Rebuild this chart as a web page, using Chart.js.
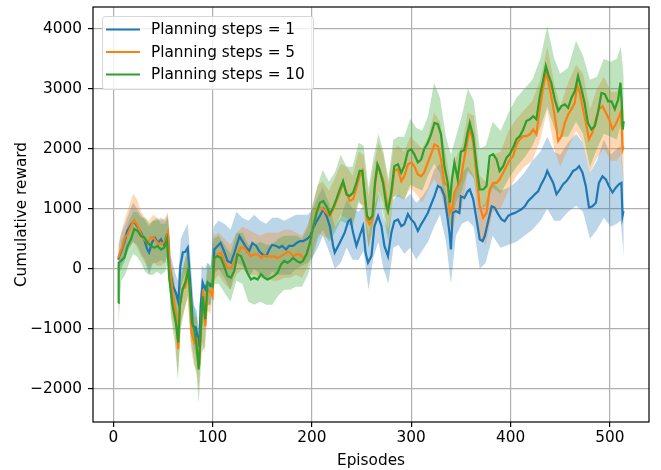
<!DOCTYPE html>
<html>
<head>
<meta charset="utf-8">
<title>Cumulative reward per episode</title>
<script src="https://cdn.jsdelivr.net/npm/chart.js"></script>
<style>
  body { margin: 0; background: #fff; }
  canvas { display: block; }
</style>
</head>
<body>
<canvas id="rewardChart" width="661" height="470"></canvas>
<script>
// mean curves, [episode, cumulative reward]
const steps1 = [
  [5,150],[6,210],[8,290],[11,430],[14,630],[18,740],[21,790],[24,710],[28,600],[31,490],
  [34,330],[36,270],[39,440],[42,510],[45,430],[48,490],[51,400],[54,570],[55,580],[56.5,40],
  [60,-290],[63,-400],[65.5,-560],[67.5,40],[70,270],[72.5,280],[75,350],[76.5,-10],[78,-340],[80,-950],
  [83,-980],[85,-1150],[86.5,-1300],[88,-600],[90,-230],[92.5,-340],[95,-230],[98,-290],[100,-290],[101.7,320],
  [105,380],[108,430],[112,270],[115,130],[118.5,100],[122,270],[127,540],[130,460],[134,350],[137,300],
  [140,430],[144,380],[147,290],[150,240],[154,210],[157,320],[160,400],[164,380],[167,350],[170,380],
  [174,320],[177,380],[181,380],[184.6,430],[188,460],[191,460],[194.6,490],[198,540],[201,660],[204.7,790],
  [208,880],[211.4,990],[214.7,880],[218,710],[221.4,380],[223,270],[226.4,380],[229.8,490],[233,600],[236.5,790],
  [238.8,820],[241.5,600],[244.8,380],[248,540],[251.5,710],[254,270],[256.5,100],[259.9,210],[263,710],[266.6,880],
  [270,710],[273,380],[276.6,210],[280,600],[283,790],[286.6,820],[290,710],[293,740],[296.7,910],[300,820],
  [303,770],[306.7,630],[310,740],[313,820],[316.7,930],[320,1070],[323.4,1210],[326.8,1380],[330,1350],[333.4,1210],
  [336.8,820],[338.5,600],[340,320],[341.8,930],[345,960],[348.5,930],[350,1210],[353.5,1180],[356.9,1290],[359,1320],
  [362.4,1160],[365.8,820],[369,490],[371.8,460],[374,540],[377.5,790],[381,1040],[384,1020],[387.6,910],[391,820],
  [394,790],[397.7,880],[401,910],[404.4,930],[407.7,960],[411,990],[414.4,1040],[417.8,1130],[421,1180],[424.5,1240],
  [427.8,1290],[431,1410],[434.6,1520],[437,1630],[439.6,1540],[443,1430],[446.3,1240],[449.7,1320],[453,1410],[456.4,1460],
  [459.7,1540],[463,1630],[466.4,1660],[469,1710],[472.5,1600],[475.8,1380],[479,1020],[482.5,1040],[486,1100],[489,1430],
  [492.6,1540],[496,1490],[499,1380],[502.7,1270],[506,1350],[509.4,1410],[511.7,1430],[512.8,880],[513.8,960]
];

const steps5 = [
  [5,180],[6.7,270],[9.4,380],[12,540],[14.4,570],[17.8,710],[21,810],[24.5,720],[28,570],[31,490],
  [34.6,430],[38,520],[40,530],[43,460],[46.3,410],[49.7,420],[53,490],[55,600],[56.4,100],[59.7,-400],
  [63,-730],[65.4,-1340],[67,-620],[69.8,-340],[72.5,-310],[75.5,-70],[77,-400],[78.9,-1070],[81.5,-1230],[83.9,-1180],
  [86.6,-1620],[89,-730],[90.6,-340],[92.6,-960],[95,-340],[98.3,-400],[100,-460],[101.7,160],[105,240],[108.4,270],
  [111.7,130],[115,20],[118.5,20],[121.8,100],[125,240],[128.5,350],[131.9,350],[135,270],[138.6,210],[142,240],
  [145.3,240],[148.7,180],[152,220],[155.4,210],[158.7,200],[162,210],[165.4,180],[168.8,210],[172,240],[175.5,280],
  [178,270],[181,210],[184.6,240],[188,240],[191,180],[194.6,240],[198,430],[201,660],[204.7,990],[208,1020],
  [211.4,990],[214.7,930],[218,880],[221.4,990],[224.7,1130],[228,1270],[231.4,1430],[234.8,1270],[238,1130],[241.5,1160],
  [244.8,1350],[248,1540],[250.8,1630],[253,1210],[255.5,820],[258,740],[261,820],[263.5,1380],[266,1710],[268,1630],
  [271.6,1490],[275,1160],[276.6,990],[280,1210],[283,1630],[286.6,1660],[290,1460],[293,1540],[296.7,1740],[300,1770],
  [303,1710],[306.7,1570],[310,1540],[313,1600],[316.7,1770],[320,1910],[323.4,2070],[326.8,2040],[330,1820],[333.4,1430],
  [336.8,1380],[339,930],[341,990],[343.5,1270],[346.8,1380],[350,1480],[352,1710],[355.7,2040],[359,2350],[362.4,2100],
  [365.8,1540],[369,1040],[372.5,850],[375.8,930],[379,1320],[382.5,1430],[386,1430],[389,1490],[392.6,1600],[396,1710],
  [399.3,1820],[402.7,1880],[406,2070],[409.4,2160],[412.8,2210],[416,2210],[419.5,2240],[422.8,2320],[426,2240],[429.5,2660],
  [433,3040],[435.6,3270],[438,3130],[441,2880],[444.6,2540],[448,2130],[451.3,2210],[454.7,2430],[458,2570],[461.4,2660],
  [464.8,2770],[467,3070],[469.8,2930],[473,2660],[476.5,2380],[479,2160],[482.5,2270],[486,2490],[489,2660],[492.6,2710],
  [496,2600],[499.3,2490],[502.7,2320],[506,2410],[509.4,2540],[511.4,2630],[512.8,1990],[513.8,2040]
];

const steps10 = [
  [5,-570],[5.4,100],[7.7,130],[11,180],[14.4,380],[17.8,490],[21,660],[24.5,630],[28,540],[31.2,520],
  [34.6,430],[38,380],[41.3,350],[44.6,380],[48,320],[51.3,350],[54,490],[56.4,-180],[59.7,-620],[63,-900],
  [65.4,-1230],[67,-620],[69.8,-340],[72.5,-230],[75.5,-10],[77.5,-460],[79.2,-900],[81.5,-1010],[83.9,-1290],[86,-1680],
  [88.3,-960],[90,-460],[92.6,-840],[95,-230],[98.3,-260],[100,-290],[101.7,180],[105,210],[108.4,180],[111.7,40],
  [115,-120],[118.5,-150],[121.8,-40],[125,240],[128.5,210],[131.9,70],[135,-70],[138.6,-180],[142,-150],[145.3,-180],
  [148.7,-90],[152,-150],[155.4,-180],[158.7,-150],[162,-120],[165.4,-70],[168.8,70],[172,130],[175.5,100],[178,130],
  [181,180],[184.6,130],[188,100],[191,130],[194.6,240],[198,430],[201,680],[204.7,930],[208,1100],[211.4,1130],
  [214.7,1040],[218,910],[221.4,1020],[224.7,1160],[228,1320],[231.4,1460],[234.8,1240],[238,1210],[241.5,1270],[244.8,1430],
  [248,1630],[250.8,1630],[253,1270],[255.5,880],[258,820],[261,880],[263.5,1430],[266,1740],[268,1660],[271.6,1430],
  [275,1040],[276.6,960],[280,1290],[283,1710],[286.6,1740],[290,1600],[293,1710],[296.7,1960],[300,1990],[303,1910],
  [306.7,1770],[310,1820],[313,1990],[316.7,2100],[320,2240],[323.4,2430],[326.8,2410],[330,2240],[333.4,1710],[336.8,1430],
  [339,1100],[341,1490],[343.5,1770],[346.8,1490],[350,1950],[353.5,1980],[356.5,2250],[359,2430],[362.4,2210],[365.8,1710],
  [369,1320],[372.5,1320],[375.8,1380],[379,1880],[382.5,1910],[386,1820],[389,1630],[392.6,1710],[396,1850],[399.3,1910],
  [402.7,2020],[406,2160],[409.4,2210],[412.8,2320],[416,2460],[419.5,2490],[422.8,2540],[426,2490],[429.5,2880],[433,3160],
  [435.6,3380],[438,3240],[441,3100],[444.6,2820],[448,2630],[451.3,2710],[454.7,2740],[458,2680],[461.4,2850],[464.8,2960],
  [468,3210],[471,3020],[474.5,2770],[477.9,2430],[481.5,2320],[485,2380],[488,2600],[491.6,2930],[495,2910],[498.3,2790],
  [501.7,2790],[505,2660],[508.4,2820],[510.7,3100],[512,2770],[513,2320],[514,2460]
];

// shaded spread, [episode, low, high]
const band1 = [
  [5,-100,400],[8,0,600],[12,150,750],[16,350,950],[20,450,1100],[24,400,1000],[28,250,900],[32,150,800],[36,-100,700],[40,100,800],
  [44,100,800],[48,150,850],[52,100,800],[55,250,900],[58,-500,200],[62,-700,-50],[65,-900,-200],[68,-300,500],[72,-100,650],[75,-50,750],
  [78,-700,100],[81,-1300,-600],[84,-1500,-700],[86,-1700,-1000],[89,-1000,50],[92,-800,0],[95,-600,100],[98,-600,50],[101,-100,700],[106,0,800],
  [112,-150,750],[118,-350,650],[124,100,950],[130,50,850],[136,-150,800],[142,0,900],[148,-100,800],[154,-200,750],[160,-50,850],[166,-100,850],
  [172,-100,800],[178,-100,850],[184,0,900],[190,50,900],[196,100,900],[201,200,1000],[206,350,1200],[211,550,1350],[217,300,1100],[223,0,700],
  [229,100,850],[235,350,1150],[241,150,1000],[247,150,950],[252,300,1050],[257,-350,550],[262,200,1000],[267,450,1250],[272,0,850],[277,-250,650],
  [282,350,1150],[287,400,1250],[293,250,1150],[299,350,1250],[305,150,1100],[311,300,1200],[317,450,1350],[323,700,1650],[329,900,1750],[335,450,1300],
  [340,-250,800],[345,550,1350],[351,750,1600],[357,800,1700],[363,700,1550],[369,0,1000],[375,100,1100],[382,550,1450],[390,350,1300],[398,400,1350],
  [406,450,1450],[414,550,1600],[422,650,1800],[430,800,1950],[437,1000,2200],[444,800,1950],[450,800,1900],[458,950,2100],[466,1050,2250],[473,950,2100],
  [480,500,1600],[487,650,1800],[494,850,2150],[501,700,1900],[507,750,2000],[511,800,2050],[514,200,1500]
];

const band5 = [
  [5,0,300],[8,50,600],[12,250,850],[16,350,1050],[20,450,1250],[24,350,1150],[28,200,950],[32,100,850],[36,0,800],[40,100,900],
  [44,50,850],[48,50,800],[52,100,850],[55,250,950],[58,-700,150],[62,-1100,-250],[65,-1750,-800],[68,-900,-100],[72,-650,100],[75,-500,350],
  [78,-1300,-300],[81,-1600,-800],[84,-1700,-800],[86,-2000,-1200],[89,-1200,-300],[92,-1400,-500],[95,-700,0],[98,-750,-50],[101,-200,550],[106,-100,600],
  [112,-250,500],[118,-350,400],[124,-100,600],[130,0,700],[136,-100,650],[142,-100,600],[148,-150,550],[154,-150,600],[160,-200,600],[166,-200,600],
  [172,-150,650],[178,-150,650],[184,-100,600],[190,-150,550],[196,50,750],[201,300,1050],[206,600,1400],[211,550,1450],[217,500,1300],[223,700,1500],
  [229,900,1750],[235,850,1700],[241,750,1550],[247,1150,1950],[252,1000,1900],[257,350,1200],[262,650,1700],[267,1300,2100],[272,1100,1900],[277,550,1400],
  [282,1200,2000],[287,1250,2050],[293,1150,1950],[299,1350,2200],[305,1250,2100],[311,1100,2000],[317,1300,2200],[323,1500,2600],[329,1300,2450],[335,900,1900],
  [340,450,1400],[345,900,1850],[351,1000,2050],[357,1600,2600],[363,1550,2550],[369,500,1550],[375,400,1450],[382,950,1900],[390,1000,1950],[398,1300,2300],
  [406,1550,2500],[414,1700,2650],[422,1800,2800],[430,2150,3150],[437,2650,3700],[444,2000,3100],[450,1700,2700],[458,2000,3100],[466,2300,3400],[473,2100,3250],
  [480,1600,2650],[487,1850,3000],[494,2000,3200],[501,1800,2950],[507,1800,2950],[511,1900,3100],[514,1400,2600]
];

const band10 = [
  [5,-950,-200],[8,-200,450],[12,-100,600],[16,100,800],[20,250,950],[24,200,950],[28,100,850],[32,-50,850],[36,-100,750],[40,-100,800],
  [44,-50,850],[48,-100,750],[52,-50,750],[55,100,850],[58,-800,50],[62,-1250,-300],[65,-1850,-600],[68,-1000,-150],[72,-650,150],[75,-450,350],
  [78,-1200,-300],[81,-1500,-600],[84,-1800,-800],[86,-2240,-1100],[89,-1400,-400],[92,-1300,-400],[95,-600,100],[98,-600,0],[101,-250,500],[106,-250,550],
  [112,-400,400],[118,-550,250],[124,-200,600],[130,-250,600],[136,-550,400],[142,-600,400],[148,-550,450],[154,-600,400],[160,-600,400],[166,-450,500],
  [172,-350,550],[178,-350,550],[184,-300,550],[190,-300,500],[196,-100,700],[201,200,1100],[206,500,1400],[211,650,1650],[217,450,1450],[223,600,1600],
  [229,800,1900],[235,750,1700],[241,700,1700],[247,1100,2100],[252,1050,2050],[257,350,1350],[262,800,1850],[267,1200,2250],[272,900,1950],[277,450,1500],
  [282,1200,2150],[287,1200,2200],[293,1150,2200],[299,1400,2500],[305,1350,2350],[311,1300,2300],[317,1550,2550],[323,1750,3100],[329,1600,2850],[335,1050,2200],
  [340,700,1900],[345,1100,2200],[351,1300,2550],[357,1650,3000],[363,1500,2800],[369,1000,2000],[375,1050,2050],[382,1350,2450],[390,1250,2300],[398,1500,2600],
  [406,1700,2850],[414,1850,3000],[422,2050,3150],[430,2350,3500],[437,2700,4040],[444,2350,3500],[450,2200,3250],[458,2200,3350],[466,2450,3800],[473,2250,3550],
  [480,1700,3150],[487,2000,3200],[494,2250,3500],[501,2200,3450],[507,2150,3500],[511,2400,3700],[514,1900,3200]
];

const seriesLabels = ['Planning steps = 1', 'Planning steps = 5', 'Planning steps = 10'];
const seriesColors = ['#1f77b4', '#ff7f0e', '#2ca02c'];
const bandColors = ['rgba(31,119,180,0.3)', 'rgba(255,127,14,0.3)', 'rgba(44,160,44,0.3)'];
const xTicks = [0, 100, 200, 300, 400, 500];
const yTicks = [-2000, -1000, 0, 1000, 2000, 3000, 4000];

const FONT = 'DejaVu Sans';
const FS = 15.3;
Chart.defaults.font.family = FONT;
Chart.defaults.font.size = FS;
Chart.defaults.color = '#000';

const means = [steps1, steps5, steps10];
const bands = [band1, band5, band10];

const datasets = [];
// fills first (blue under orange under green)
bands.forEach((band, i) => {
  datasets.push({
    data: band.map(b => ({ x: b[0], y: b[2] })),
    borderWidth: 0, borderColor: 'rgba(0,0,0,0)', pointRadius: 0,
    fill: false, order: 10 - i
  });
  datasets.push({
    data: band.map(b => ({ x: b[0], y: b[1] })),
    borderWidth: 0, borderColor: 'rgba(0,0,0,0)', pointRadius: 0,
    fill: '-1', backgroundColor: bandColors[i], order: 10 - i
  });
});
means.forEach((pts, i) => {
  datasets.push({
    label: seriesLabels[i],
    data: pts.map(p => ({ x: p[0], y: p[1] })),
    borderColor: seriesColors[i], borderWidth: 2.2,
    pointRadius: 0, fill: false, tension: 0, order: 3 - i
  });
});

// axes frame + legend box drawn inside the plot like matplotlib
const frameAndLegend = {
  id: 'frameAndLegend',
  afterDraw(chart) {
    const { ctx } = chart;
    const sx = chart.scales.x, sy = chart.scales.y;
    const L = sx.left, R = sx.right, T = sy.top, B = sy.bottom;
    ctx.save();
    ctx.strokeStyle = '#000';
    ctx.lineWidth = 1.2;
    ctx.strokeRect(L, T, R - L, B - T);

    const x0 = L + 9, y0 = T + 9;
    ctx.beginPath();
    ctx.roundRect(x0 + 0.5, y0 + 0.5, 211, 73, 3);
    ctx.fillStyle = 'rgba(255,255,255,0.8)';
    ctx.fill();
    ctx.strokeStyle = '#d6d6d6';
    ctx.lineWidth = 1;
    ctx.stroke();

    ctx.font = FS + 'px "' + FONT + '"';
    ctx.textBaseline = 'middle';
    seriesLabels.forEach((label, i) => {
      const y = y0 + 13.5 + i * 22.5;
      ctx.strokeStyle = seriesColors[i];
      ctx.lineWidth = 2.2;
      ctx.beginPath();
      ctx.moveTo(x0 + 4, y);
      ctx.lineTo(x0 + 38, y);
      ctx.stroke();
      ctx.fillStyle = '#000';
      ctx.fillText(label, x0 + 49, y + 1);
    });
    ctx.restore();
  }
};

const minus = v => (v < 0 ? '\u2212' + Math.abs(v) : String(v));

new Chart(document.getElementById('rewardChart'), {
  type: 'line',
  data: { datasets },
  plugins: [frameAndLegend],
  options: {
    responsive: false,
    animation: false,
    layout: { padding: { top: 7, right: 12, left: 0, bottom: 0 } },
    plugins: {
      legend: { display: false },
      tooltip: { enabled: false },
      filler: { drawTime: 'beforeDatasetsDraw' }
    },
    scales: {
      x: {
        type: 'linear',
        min: -20.45, max: 539.45,
        afterBuildTicks: s => { s.ticks = xTicks.map(v => ({ value: v })); },
        afterFit: s => { s.height = 48; s.paddingLeft = 0; s.paddingRight = 0; },
        border: { display: false },
        grid: { color: '#b0b0b0', lineWidth: 1.2, tickColor: '#000', tickLength: 5, drawTicks: true },
        ticks: { autoSkip: false, maxRotation: 0, padding: 2, color: '#000' },
        title: { display: true, text: 'Episodes', color: '#000', padding: { top: 0, bottom: 0 } }
      },
      y: {
        type: 'linear',
        min: -2555, max: 4362,
        afterBuildTicks: s => { s.ticks = yTicks.map(v => ({ value: v })); },
        afterFit: s => { s.width = 93; s.paddingTop = 0; s.paddingBottom = 0; },
        border: { display: false },
        grid: { color: '#b0b0b0', lineWidth: 1.2, tickColor: '#000', tickLength: 5, drawTicks: true },
        ticks: { autoSkip: false, padding: 6, color: '#000', callback: minus },
        title: { display: true, text: 'Cumulative reward', color: '#000', padding: { top: 13, bottom: 0 } }
      }
    }
  }
});
</script>
</body>
</html>
